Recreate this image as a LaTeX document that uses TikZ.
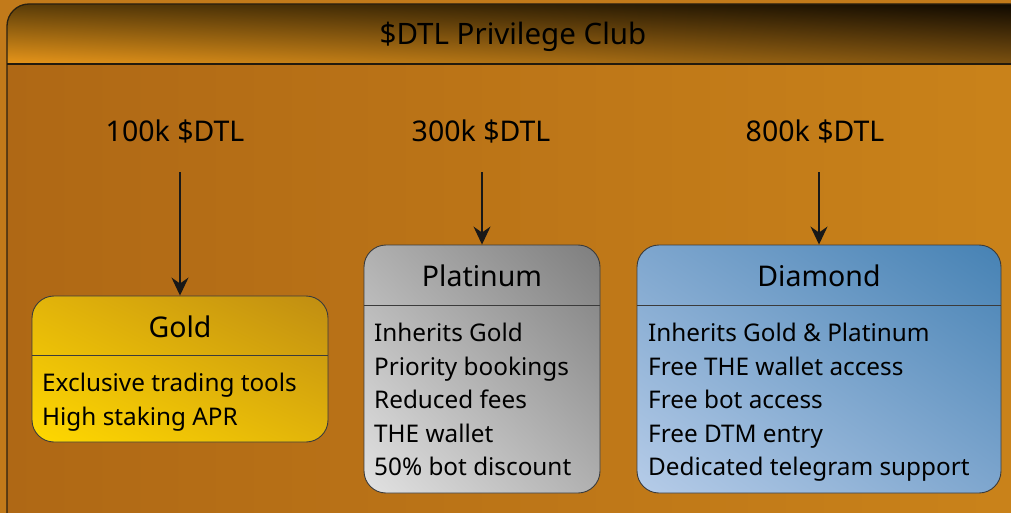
\documentclass[tikz,border=0pt]{standalone}
\usepackage{fontspec}
\setmainfont{Noto Sans}
\usetikzlibrary{arrows.meta,shadings}
\definecolor{pagebg}{HTML}{C27A1A}
\definecolor{bodyL}{HTML}{AF6815}
\definecolor{bodyR}{HTML}{CA831A}
\definecolor{lineC}{HTML}{2A2010}
\definecolor{ink}{HTML}{181818}
\definecolor{gL}{HTML}{FFD800}
\definecolor{gM}{HTML}{E2B40A}
\definecolor{gR}{HTML}{C08D12}
\definecolor{pL}{HTML}{E2E2E2}
\definecolor{pM}{HTML}{B0B0B0}
\definecolor{pR}{HTML}{7E7E7E}
\definecolor{dL}{HTML}{B6CCE8}
\definecolor{dM}{HTML}{7EA6CE}
\definecolor{dR}{HTML}{4682B4}
\definecolor{hLL}{HTML}{E8961A}
\definecolor{hUL}{HTML}{5A3C08}
\definecolor{hUR}{HTML}{0E0800}
\definecolor{hLR}{HTML}{7A5010}
\tikzset{
  frame/.style={draw=lineC, line width=1.3pt, rounded corners=22pt},
  tierbox/.style={draw=ink!85, line width=0.9pt, rounded corners=22pt, inner sep=0pt},
  goldfill/.style={lower left=gL, upper right=gR, upper left=gM, lower right=gM},
  platfill/.style={lower left=pL, upper right=pR, upper left=pM, lower right=pM},
  diafill/.style={lower left=dL, upper right=dR, upper left=dM, lower right=dM},
  headtxt/.style={font=\fontsize{28.5}{34}\selectfont, text=black, inner sep=0pt},
  titletxt/.style={font=\fontsize{29.5}{34}\selectfont, text=black, inner sep=0pt},
  pricetxt/.style={font=\fontsize{28.5}{34}\selectfont, text=black, inner sep=0pt, minimum height=82pt},
  bodytxt/.style={font=\fontsize{24.3}{33.5}\selectfont, text=black, align=left, inner sep=0pt, anchor=north west},
  sepline/.style={draw=ink!85, line width=0.9pt},
  arr/.style={draw=ink, line width=1.4pt, -{Stealth[length=18pt, width=17pt, inset=6pt]}},
}
\begin{document}
\begin{tikzpicture}[x=1pt,y=-1pt]
\useasboundingbox (0,0) rectangle (1011,513);
\fill[pagebg] (0,0) rectangle (1011,513);
\begin{scope}
  \clip (0,0) rectangle (1011,513);
  \shade[left color=bodyL, right color=bodyR, rounded corners=22pt] (7,4) rectangle (1032,536);
  \begin{scope}
    \clip[rounded corners=22pt] (7,4) rectangle (1032,536);
    \shade[lower left=hLL, upper left=hUL, upper right=hUR, lower right=hLR] (7,4) rectangle (1032,64);
  \end{scope}
  \draw[frame] (7,4) rectangle (1032,536);
  \draw[draw=lineC!80!black, line width=1.6pt] (7,64) -- (1011,64);
\end{scope}
\node[titletxt] (title) at (513,37) {\$DTL Privilege Club};

% price labels
\node[pricetxt] (p100) at (175,131) {100k \$DTL};
\node[pricetxt] (p300) at (481,131) {300k \$DTL};
\node[pricetxt] (p800) at (815,131) {800k \$DTL};

% tier boxes
\node[tierbox, goldfill, minimum width=296pt, minimum height=146pt] (gold) at (180,369) {};
\node[tierbox, platfill, minimum width=236pt, minimum height=248pt] (plat) at (482,369) {};
\node[tierbox, diafill, minimum width=364pt, minimum height=248pt] (dia) at (819,369) {};

\draw[sepline] (32,355) -- (328,355);
\draw[sepline] (364,305) -- (600,305);
\draw[sepline] (637,305) -- (1001,305);

\node[headtxt] (goldh) at (180,327) {Gold};
\node[headtxt] (plath) at (482,276) {Platinum};
\node[headtxt] (diah) at (819,276) {Diamond};

\node[bodytxt] (goldb) at (42,373) {Exclusive trading tools\\High staking APR};
\node[bodytxt] (platb) at (374,323) {Inherits Gold\\Priority bookings\\Reduced fees\\THE wallet\\50\% bot discount};
\node[bodytxt] (diab) at (648,323) {Inherits Gold \& Platinum\\Free THE wallet access\\Free bot access\\Free DTM entry\\Dedicated telegram support};

% arrows
\draw[arr] (gold.north |- p100.south) -- (gold.north);
\draw[arr] (plat.north |- p300.south) -- (plat.north);
\draw[arr] (dia.north |- p800.south) -- (dia.north);
\end{tikzpicture}
\end{document}
